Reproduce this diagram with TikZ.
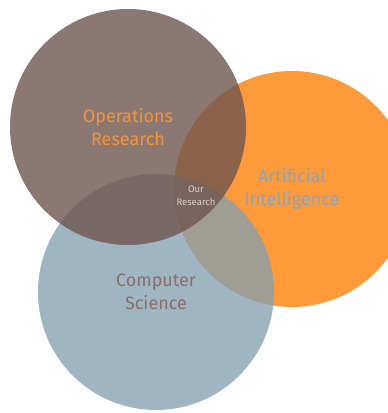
\documentclass[tikz,border=0pt]{standalone}
\usepackage{fontspec}
\setmainfont{Fira Sans}
\usepackage{tikz}
\usetikzlibrary{positioning}

\definecolor{orBrown}{RGB}{110,86,79}
\definecolor{aiOrange}{RGB}{254,154,58}
\definecolor{csBlue}{RGB}{132,159,176}
\definecolor{orText}{RGB}{245,146,58}
\definecolor{aiText}{RGB}{141,163,182}
\definecolor{csText}{RGB}{138,110,107}
\definecolor{ourText}{RGB}{218,208,204}

\begin{document}
\begin{tikzpicture}
[
	x = 1pt, y = -1pt,
	field/.style	= {circle, minimum size = 236pt, inner sep = 0pt, align = center, font = \fontsize{18}{23}\selectfont},
	core/.style	= {align = center, font = \fontsize{9.5}{13}\selectfont, text = ourText},
]

	\useasboundingbox (0,0) rectangle (388,413);
	\clip (0,0) rectangle (388,413);

	\node (AI) [field, fill = aiOrange, text = aiText] at (292,189) {Artificial\\Intelligence};
	\node (CS) [field, fill = csBlue, fill opacity = 0.77, text opacity = 1, text = csText] at (156,292) {Computer\\Science};
	\node (OR) [field, fill = orBrown, fill opacity = 0.8, text opacity = 1, text = orText] at (128,127) {Operations\\Research};
	%
	\node (our) [core] at (196,196) {Our\\Research};

\end{tikzpicture}
\end{document}
